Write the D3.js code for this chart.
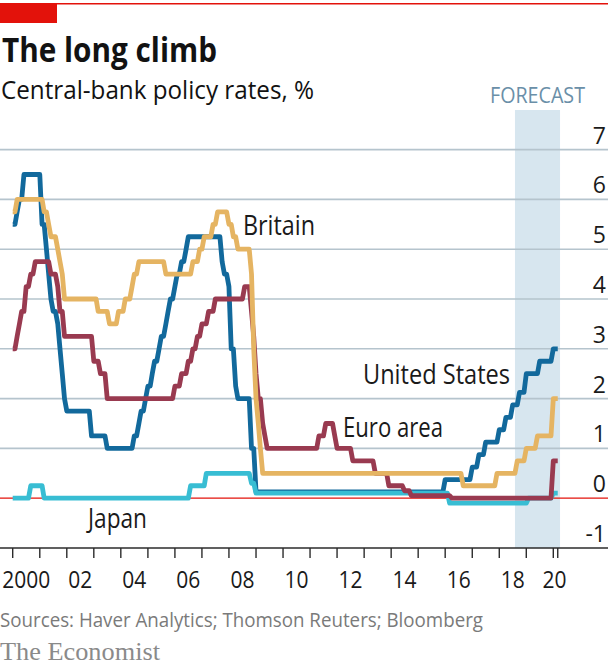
<!DOCTYPE html>
<html><head><meta charset="utf-8">
<script src="https://cdn.jsdelivr.net/npm/d3@7"></script>
<style>
body{margin:0;background:#fff}
svg{display:block}
text{font-family:"Open Sans","Noto Sans",sans-serif}
text.serif{font-family:"Liberation Serif","DejaVu Serif",serif}
</style>
</head><body>
<svg id="chart" width="608" height="667"></svg>
<script>
// ---------------- DATA (policy-rate change points, %) ----------------
const usRate = [
 ["2000-01-01",5.5],["2000-02-02",5.75],["2000-03-21",6.0],["2000-05-16",6.5],["2001-01-03",6.0],
 ["2001-01-31",5.5],["2001-03-20",5.0],["2001-04-18",4.5],["2001-05-15",4.0],["2001-06-27",3.75],
 ["2001-08-21",3.5],["2001-09-17",3.0],["2001-10-02",2.5],["2001-11-06",2.0],["2001-12-11",1.75],
 ["2002-11-06",1.25],["2003-06-25",1.0],["2004-06-30",1.25],["2004-08-10",1.5],["2004-09-21",1.75],
 ["2004-11-10",2.0],["2004-12-14",2.25],["2005-02-02",2.5],["2005-03-22",2.75],["2005-05-03",3.0],
 ["2005-06-30",3.25],["2005-08-09",3.5],["2005-09-20",3.75],["2005-11-01",4.0],["2005-12-13",4.25],
 ["2006-01-31",4.5],["2006-03-28",4.75],["2006-05-10",5.0],["2006-06-29",5.25],["2007-09-18",4.75],
 ["2007-10-31",4.5],["2007-12-11",4.25],["2008-01-22",3.5],["2008-01-30",3.0],["2008-03-18",2.25],
 ["2008-04-30",2.0],["2008-10-08",1.5],["2008-10-29",1.0],["2008-12-16",0.125],["2015-12-16",0.375],
 ["2016-12-14",0.625],["2017-03-15",0.875],["2017-06-14",1.125],["2017-12-13",1.375],["2018-03-21",1.625],
 ["2018-06-13",1.875],["2018-09-26",2.125],["2018-12-19",2.5],["2019-06-15",2.75],["2020-01-01",3.0]
];
const britainRate = [
 ["2000-01-01",5.75],["2000-02-10",6.0],["2001-02-08",5.75],["2001-04-05",5.5],["2001-05-10",5.25],
 ["2001-08-02",5.0],["2001-09-18",4.75],["2001-10-04",4.5],["2001-11-08",4.0],["2003-02-06",3.75],
 ["2003-07-10",3.5],["2003-11-06",3.75],["2004-02-05",4.0],["2004-05-06",4.25],["2004-06-10",4.5],
 ["2004-08-05",4.75],["2005-08-04",4.5],["2006-08-03",4.75],["2006-11-09",5.0],["2007-01-11",5.25],
 ["2007-05-10",5.5],["2007-07-05",5.75],["2007-12-06",5.5],["2008-02-07",5.25],["2008-04-10",5.0],
 ["2008-10-08",4.5],["2008-11-06",3.0],["2008-12-04",2.0],["2009-01-08",1.5],["2009-02-05",1.0],
 ["2009-03-05",0.5],["2016-08-04",0.25],["2017-11-02",0.5],["2018-08-02",0.75],["2019-01-01",1.0],
 ["2019-06-01",1.25],["2020-01-01",2.0]
];
const euroRate = [
 ["2000-01-01",3.0],["2000-02-04",3.25],["2000-03-17",3.5],["2000-04-28",3.75],["2000-06-09",4.25],
 ["2000-09-01",4.5],["2000-10-06",4.75],["2001-05-11",4.5],["2001-08-31",4.25],["2001-09-18",3.75],
 ["2001-11-09",3.25],["2002-12-06",2.75],["2003-03-07",2.5],["2003-06-06",2.0],["2005-12-06",2.25],
 ["2006-03-08",2.5],["2006-06-15",2.75],["2006-08-09",3.0],["2006-10-11",3.25],["2006-12-13",3.5],
 ["2007-03-14",3.75],["2007-06-13",4.0],["2008-07-09",4.25],["2008-10-15",3.75],["2008-11-12",3.25],
 ["2008-12-10",2.5],["2009-01-21",2.0],["2009-03-11",1.5],["2009-04-08",1.25],["2009-05-13",1.0],
 ["2011-04-13",1.25],["2011-07-13",1.5],["2011-11-09",1.25],["2011-12-14",1.0],["2012-07-11",0.75],
 ["2013-05-08",0.5],["2013-11-13",0.25],["2014-06-11",0.15],["2014-09-10",0.05],["2016-03-16",0.0],
 ["2020-01-01",0.75]
];
const japanRate = [
 ["2000-01-01",0.0],["2000-08-11",0.25],["2001-03-01",0.0],["2006-07-14",0.25],["2007-02-21",0.5],
 ["2008-10-31",0.3],["2008-12-19",0.1],["2016-02-16",-0.1],["2019-01-15",0.0],["2020-01-01",0.1]
];
const yTicks = [7,6,5,4,3,2,1,0,-1];
const xTickLabels = ["2000","02","04","06","08","10","12","14","16","18","20"];
const startDate = "2000-01-01", endDate = "2020-03-01";
const forecastStart = "2018-08-01", forecastEnd = "2020-04-01";

// ---------------- CHART ----------------
const P = d3.utcParse("%Y-%m-%d");
const svg = d3.select("#chart");
const W = 608;
const x = d3.scaleUtc().domain([P("2000-01-01"), P("2020-01-01")]).range([12.7, 553.3]);
const y = d3.scaleLinear().domain([-1, 7]).range([548, 149.6]);

// red top rule and tab
svg.append("rect").attr("x",0).attr("y",3).attr("width",W).attr("height",1.5).attr("fill","#e3120b");
svg.append("rect").attr("x",0).attr("y",3).attr("width",57).attr("height",20).attr("fill","#e3120b");

// titles
svg.append("text").attr("x",2).attr("y",62).attr("font-size",34).attr("font-weight",700)
  .attr("fill","#121212").attr("textLength",215).attr("lengthAdjust","spacingAndGlyphs").text("The long climb");
svg.append("text").attr("x",1).attr("y",99).attr("font-size",26)
  .attr("fill","#121212").attr("textLength",313).attr("lengthAdjust","spacingAndGlyphs").text("Central-bank policy rates, %");

// forecast band
svg.append("rect").attr("x",x(P(forecastStart))).attr("y",110)
  .attr("width",x(P(forecastEnd))-x(P(forecastStart))).attr("height",y(-1)-110).attr("fill","#d7e6ef");
svg.append("text").attr("x",490).attr("y",103).attr("font-size",21).attr("fill","#6a8fa8")
  .attr("textLength",95).attr("lengthAdjust","spacingAndGlyphs").text("FORECAST");

// gridlines
svg.append("g").selectAll("line").data(yTicks.filter(d=>d>0)).join("line")
  .attr("x1",0).attr("x2",W).attr("y1",d=>y(d)).attr("y2",d=>y(d))
  .attr("stroke","#b5c4cd").attr("stroke-width",1.6);

// y labels
svg.append("g").selectAll("text").data(yTicks).join("text")
  .attr("x",606).attr("y",d=>y(d)-6).attr("text-anchor","end").attr("font-size",23)
  .attr("fill","#1a1a1a").text(d=>d);

// series
function monthly(changes){
  const ch = changes.map(([d,v])=>({t:P(d),v}));
  const months = d3.utcMonth.range(P(startDate), d3.utcDay.offset(P(endDate),1));
  const bis = d3.bisector(c=>c.t).right;
  return months.map(t=>({t, v: ch[Math.max(0,bis(ch,t)-1)].v}));
}
const line = d3.line().x(d=>x(d.t)).y(d=>y(d.v));
const series = [
  {data: usRate, color:"#12699c"},
  {data: japanRate, color:"#38bdd3"},
  {data: euroRate, color:"#993a50"},
  {data: britainRate, color:"#e5b462"}
];
// zero line
svg.append("line").attr("x1",0).attr("x2",W).attr("y1",y(0)).attr("y2",y(0))
  .attr("stroke","#e3120b").attr("stroke-width",1.2);
svg.append("g").selectAll("path").data(series).join("path")
  .attr("d",s=>line(monthly(s.data))).attr("fill","none").attr("stroke",s=>s.color)
  .attr("stroke-width",4.8).attr("stroke-linejoin","round").attr("stroke-linecap","butt");

// series labels
const labels = [
  {t:"Britain", x:243, y:235, w:72},
  {t:"United States", x:363, y:384, w:147},
  {t:"Euro area", x:343, y:437, w:100},
  {t:"Japan", x:88, y:528, w:59}
];
svg.append("g").selectAll("text").data(labels).join("text")
  .attr("x",d=>d.x).attr("y",d=>d.y).attr("font-size",27).attr("fill","#1a1a1a")
  .attr("textLength",d=>d.w).attr("lengthAdjust","spacingAndGlyphs").text(d=>d.t);

// x axis
svg.append("line").attr("x1",0).attr("x2",W).attr("y1",y(-1)).attr("y2",y(-1))
  .attr("stroke","#2b2b2b").attr("stroke-width",1.4);
const tickDates = d3.utcYear.range(P("2000-01-01"), P("2020-01-02")).concat([P(endDate)]);
svg.append("g").selectAll("line").data(tickDates).join("line")
  .attr("x1",d=>x(d)).attr("x2",d=>x(d)).attr("y1",y(-1)).attr("y2",y(-1)+10)
  .attr("stroke","#2b2b2b").attr("stroke-width",1.4);
svg.append("g").selectAll("text").data(xTickLabels).join("text")
  .attr("x",(d,i)=> i<xTickLabels.length-1 ? x(d3.utcMonth.offset(P((2000+2*i)+"-01-01"),6)) : (x(P("2020-01-01"))+x(P(endDate)))/2 - 1)
  .attr("y",588).attr("text-anchor","middle").attr("font-size",24).attr("fill","#1a1a1a")
  .attr("textLength",d=>d.length*12).attr("lengthAdjust","spacingAndGlyphs").text(d=>d);

// footer
svg.append("text").attr("x",0).attr("y",627).attr("font-size",20).attr("fill","#7a7a7a")
  .attr("textLength",483).attr("lengthAdjust","spacingAndGlyphs").text("Sources: Haver Analytics; Thomson Reuters; Bloomberg");
svg.append("text").attr("class","serif").attr("x",0).attr("y",660).attr("font-size",25).attr("fill","#8a8a8a")
  .attr("textLength",160).attr("lengthAdjust","spacingAndGlyphs").text("The Economist");
</script>
</body></html>
